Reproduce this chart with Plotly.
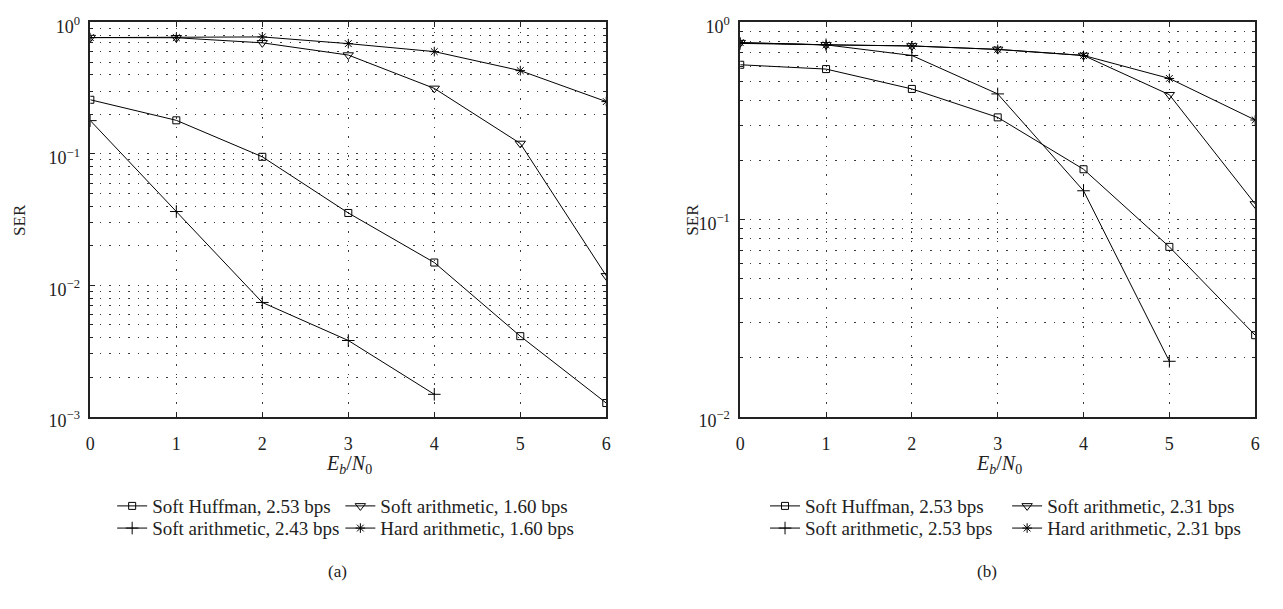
import plotly.graph_objects as go

ebn0 = [0, 1, 2, 3, 4, 5, 6]

# Panel (a)
a_soft_huffman = [0.258, 0.18, 0.095, 0.0355, 0.0149, 0.0041, 0.00127]
a_soft_arith_243 = [0.179, 0.0364, 0.0074, 0.0038, 0.00148]
a_soft_arith_160 = [0.767, 0.765, 0.70, 0.565, 0.315, 0.12, 0.0118]
a_hard_arith_160 = [0.767, 0.767, 0.776, 0.69, 0.60, 0.43, 0.25]

# Panel (b)
b_soft_huffman = [0.61, 0.58, 0.46, 0.33, 0.18, 0.0727, 0.0259]
b_soft_arith_253 = [0.783, 0.77, 0.68, 0.434, 0.14, 0.0191]
b_soft_arith_231 = [0.79, 0.77, 0.76, 0.73, 0.68, 0.43, 0.12]
b_hard_arith_231 = [0.79, 0.77, 0.76, 0.73, 0.68, 0.52, 0.32]

names_a = ["Soft Huffman, 2.53 bps", "Soft arithmetic, 2.43 bps",
           "Soft arithmetic, 1.60 bps", "Hard arithmetic, 1.60 bps"]
names_b = ["Soft Huffman, 2.53 bps", "Soft arithmetic, 2.53 bps",
           "Soft arithmetic, 2.31 bps", "Hard arithmetic, 2.31 bps"]
x_tick_labels = ["0", "1", "2", "3", "4", "5", "6"]

symbols = ["square-open", "cross-thin-open", "triangle-down-open", "asterisk-open"]
sizes = [7, 9, 9, 8]

FONT = "Liberation Serif, Times New Roman, serif"
INK = "#222222"
GRID = "#3a3a3a"
W, H = 1283, 609

fig = go.Figure()

series_a = [a_soft_huffman, a_soft_arith_243, a_soft_arith_160, a_hard_arith_160]
series_b = [b_soft_huffman, b_soft_arith_253, b_soft_arith_231, b_hard_arith_231]

# legend slots: (left x px, top y px)
LEG_FONT = 19
row1, row2 = 497, 520
slots_a = [(108, row1), (108, row2), (338, row1), (338, row2)]
slots_b = [(766, row1), (766, row2), (1010, row1), (1010, row2)]

leg_layout = {}
idx = 0
for series, names, slots, xa, ya in [
        (series_a, names_a, slots_a, "x", "y"),
        (series_b, names_b, slots_b, "x2", "y2")]:
    for vals, name, sym, sz, (lx, ly) in zip(series, names, symbols, sizes, slots):
        idx += 1
        lg = "legend" if idx == 1 else "legend%d" % idx
        fig.add_trace(go.Scatter(
            x=ebn0[:len(vals)], y=vals, name=name, mode="lines+markers",
            line=dict(color="black", width=1),
            marker=dict(symbol=sym, size=sz, color="black",
                        line=dict(color="black", width=1)),
            xaxis=xa, yaxis=ya, legend=lg))
        leg_layout[lg] = dict(font=dict(family=FONT, size=LEG_FONT, color=INK),
                              bgcolor="rgba(0,0,0,0)", xanchor="left", yanchor="top",
                              x=lx / W, y=1 - ly / H, itemwidth=30, orientation="v")

xdom_a = (86 / W, 606 / W)
xdom_b = (741 / W, 1260 / W)
ydom = (1 - 424 / H, 1 - 15 / H)

common = dict(showgrid=True, gridcolor=GRID, gridwidth=1, griddash="1.5px,8px",
              showline=True, linecolor=INK, linewidth=1.5, mirror="allticks",
              ticks="inside", ticklen=5, tickcolor=INK, zeroline=False,
              tickfont=dict(family=FONT, size=18, color=INK))

xaxis_common = dict(common, range=[0, 6], tickvals=ebn0, ticktext=x_tick_labels,
                    ticklabelstandoff=10)


def yaxis_cfg(lo, anchor):
    vals = [10 ** k for k in range(lo, 1)]
    txt = ["10<sup>%s</sup>" % (str(k).replace("-", "−")) for k in range(lo, 1)]
    return dict(common, type="log", range=[lo, 0], tickvals=vals, ticktext=txt,
                anchor=anchor, domain=ydom, ticklabelstandoff=5, ticklabelshift=4,
                minor=dict(dtick="D1", showgrid=True, gridcolor=GRID, griddash="1.5px,8px",
                           gridwidth=1, ticks="inside", ticklen=3, tickcolor=INK))


fig.update_layout(
    width=W, height=H,
    margin=dict(l=0, r=0, t=0, b=0),
    paper_bgcolor="white", plot_bgcolor="white",
    font=dict(family=FONT, color=INK),
    xaxis=dict(xaxis_common, domain=xdom_a, anchor="y"),
    yaxis=yaxis_cfg(-3, "x"),
    xaxis2=dict(xaxis_common, domain=xdom_b, anchor="y2"),
    yaxis2=yaxis_cfg(-2, "x2"),
    showlegend=True,
    **leg_layout,
)


def ann(text, x, y, size, angle=0):
    fig.add_annotation(text=text, x=x / W, y=1 - y / H, xref="paper", yref="paper",
                       showarrow=False, textangle=angle, xanchor="center", yanchor="middle",
                       font=dict(family=FONT, size=size, color=INK))


ann("SER", 14, 220, 17, -90)
ann("SER", 692, 220, 17, -90)
ann("<i>E<sub>b</sub></i>/<i>N</i><sub>0</sub>", 347, 474, 20)
ann("<i>E<sub>b</sub></i>/<i>N</i><sub>0</sub>", 1002, 474, 20)
ann("(a)", 335, 585, 17)
ann("(b)", 990, 585, 17)

fig.write_html("out.html")
